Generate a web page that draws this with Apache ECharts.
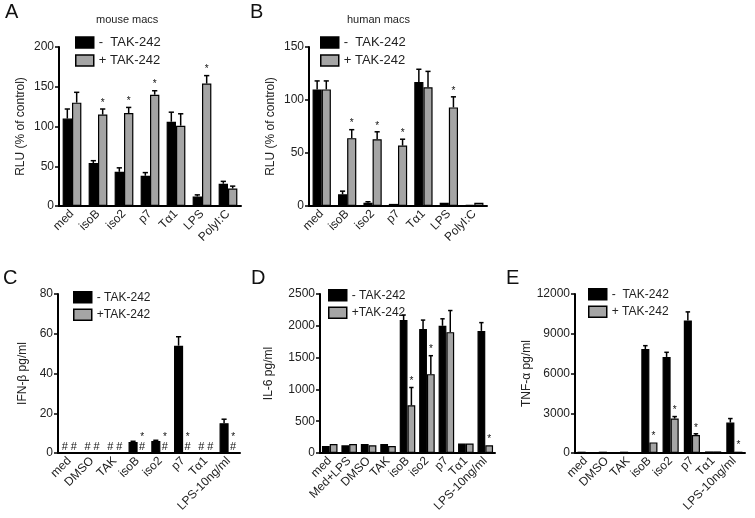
<!DOCTYPE html>
<html><head><meta charset="utf-8">
<script src="https://cdn.jsdelivr.net/npm/echarts@6/dist/echarts.min.js"></script>
<style>html,body{margin:0;padding:0;background:#fff}#c{width:755px;height:518px}</style>
</head><body><div id="c"></div>
<script>
// ---- Data ----
const catsAB = ['med','isoB','iso2','p7','Tα1','LPS','PolyI:C'];
const aMinus = [110,54,43,38,106,12,28];
const aMinusErr = [12,3,5,4,12,2,3];
const aPlus = [130,115,117,140,101,154,22];
const aPlusErr = [13,7,7,5,15,10,3];
const aStars = [0,1,1,1,0,1,0];

const bMinus = [110,11,3,2,117,3,1];
const bMinusErr = [8,3,1,0,12,0,0];
const bPlus = [110,64,63,57,112,93,3];
const bPlusErr = [8,8,7,6,15,10,0];
const bStars = [0,1,1,1,0,1,0];

const catsC = ['med','DMSO','TAK','isoB','iso2','p7','Tα1','LPS-10ng/ml'];
const cMinus = [0,0,0,5.5,6,54,0,15];
const cMinusErr = [0,0,0,0.4,0.4,4.5,0,2];
const cPlus = [0,0,0,0,0,0,0,0];
const cPlusErr = [0,0,0,0,0,0,0,0];
const cStars = [0,0,0,1,1,1,0,1];
const cMinusHash = [1,1,1,0,0,0,1,0];
const cPlusHash = [1,1,1,1,1,1,1,1];

const catsD = ['med','Med+LPS','DMSO','TAK','isoB','iso2','p7','Tα1','LPS-10ng/ml'];
const dMinus = [110,120,140,140,2090,1950,2000,150,1920];
const dMinusErr = [0,0,0,0,80,140,110,0,130];
const dPlus = [140,140,120,110,750,1240,1900,150,120];
const dPlusErr = [0,0,0,0,280,290,340,0,0];
const dStars = [0,0,0,0,1,1,0,0,1];

const catsE = ['med','DMSO','TAK','isoB','iso2','p7','Tα1','LPS-10ng/ml'];
const eMinus = [100,100,100,7850,7250,10000,120,2300];
const eMinusErr = [0,0,0,250,350,650,0,300];
const ePlus = [0,0,0,800,2600,1350,120,100];
const ePlusErr = [0,0,0,0,150,100,0,0];
const eStars = [0,0,0,1,1,1,0,1];

const yTicks = {A:[0,200,50], B:[0,150,50], C:[0,80,20], D:[0,2500,500], E:[0,12000,3000]};

// ---- Styling ----
const FONT = 'Liberation Sans';
const TXT = '#222';
const GRAY = '#a5a5a5';

const panels = [
  {key:'A', cats:catsAB, m:aMinus, me:aMinusErr, p:aPlus, pe:aPlusErr, st:aStars, grid:{left:59,top:47,width:182,height:159}, yName:'RLU (% of control)', nameGap:32, bw:0.36, names:['-  TAK-242','+ TAK-242'], legend:{left:70,top:31}, lfs:13},
  {key:'B', cats:catsAB, m:bMinus, me:bMinusErr, p:bPlus, pe:bPlusErr, st:bStars, grid:{left:309,top:47,width:178,height:159}, yName:'RLU (% of control)', nameGap:32, bw:0.36, names:['-  TAK-242','+ TAK-242'], legend:{left:315,top:31}, lfs:13},
  {key:'C', cats:catsC, m:cMinus, me:cMinusErr, p:cPlus, pe:cPlusErr, st:cStars, mh:cMinusHash, ph:cPlusHash, grid:{left:58,top:294,width:182,height:159}, yName:'IFN-β pg/ml', nameGap:29, bw:0.4, names:['- TAK-242','+TAK-242'], legend:{left:68,top:286}, lfs:12},
  {key:'D', cats:catsD, m:dMinus, me:dMinusErr, p:dPlus, pe:dPlusErr, st:dStars, grid:{left:320,top:294,width:175,height:159}, yName:'IL-6 pg/ml', nameGap:45, bw:0.4, names:['- TAK-242','+TAK-242'], legend:{left:323,top:284}, lfs:12},
  {key:'E', cats:catsE, m:eMinus, me:eMinusErr, p:ePlus, pe:ePlusErr, st:eStars, grid:{left:575,top:294,width:170,height:159}, yName:'TNF-α pg/ml', nameGap:41, bw:0.38, names:['-  TAK-242','+ TAK-242'], legend:{left:583,top:283}, lfs:12}
];

const grids=[], xAxes=[], yAxes=[], series=[], legends=[];

function errRender(bw, side){
  return function(params, api){
    const i = api.value(0), v = api.value(1), e = api.value(2), star = api.value(3), hash = api.value(4);
    const catW = api.size([1,0])[0];
    const w = catW*bw;
    const base = api.coord([i, v]);
    const x = base[0] + side*w/2;
    const children = [];
    let top = base[1];
    if (e > 0) {
      top = api.coord([i, v+e])[1];
      children.push({type:'line', shape:{x1:x,y1:base[1],x2:x,y2:top}, style:{stroke:'#000',lineWidth:1.5}});
      children.push({type:'line', shape:{x1:x-w*0.28,y1:top,x2:x+w*0.28,y2:top}, style:{stroke:'#000',lineWidth:1.5}});
    }
    let y = top;
    if (hash) {
      children.push({type:'text', style:{text:'#', x:x, y:base[1]-0.5, align:'center', verticalAlign:'bottom', font:'11px '+FONT, fill:'#111'}});
      y = base[1]-10;
    }
    if (star) {
      children.push({type:'text', style:{text:'*', x:x, y:y-1, align:'center', verticalAlign:'bottom', font:'10px '+FONT, fill:'#111'}});
    }
    return {type:'group', children};
  };
}

panels.forEach((P, k) => {
  grids.push(P.grid);
  const t = yTicks[P.key];
  xAxes.push({type:'category', gridIndex:k, data:P.cats, boundaryGap:true,
    axisLine:{lineStyle:{color:'#000',width:2}},
    axisTick:{alignWithLabel:true, length:5, lineStyle:{color:'#000',width:1.5}},
    axisLabel:{rotate:45, interval:0, color:TXT, fontFamily:FONT, fontSize:12, margin:6}});
  yAxes.push({type:'value', gridIndex:k, min:t[0], max:t[1], interval:t[2],
    splitLine:{show:false},
    axisLine:{show:true, lineStyle:{color:'#000',width:2}},
    axisTick:{show:true, length:4, lineStyle:{color:'#000',width:1.5}},
    axisLabel:{color:TXT, fontFamily:FONT, fontSize:12, margin:5, formatter:v => String(v)},
    name:P.yName, nameLocation:'middle', nameRotate:90, nameGap:P.nameGap,
    nameTextStyle:{color:TXT, fontFamily:FONT, fontSize:12}});
  const bwPct = (P.bw*100)+'%';
  series.push({type:'bar', name:P.names[0], xAxisIndex:k, yAxisIndex:k, data:P.m, barWidth:bwPct, barGap:'0%',
    itemStyle:{color:'#000', borderColor:'#000', borderWidth:1.2}, emphasis:{disabled:true}});
  series.push({type:'bar', name:P.names[1], xAxisIndex:k, yAxisIndex:k, data:P.p, barWidth:bwPct, barGap:'0%',
    itemStyle:{color:GRAY, borderColor:'#000', borderWidth:1.2}, emphasis:{disabled:true}});
  const mh = P.mh || P.m.map(()=>0), ph = P.ph || P.p.map(()=>0);
  series.push({type:'custom', xAxisIndex:k, yAxisIndex:k, z:5, silent:true,
    renderItem:errRender(P.bw,-1), encode:{x:0,y:1},
    data:P.m.map((v,i)=>[i, v, P.me[i], 0, mh[i]])});
  series.push({type:'custom', xAxisIndex:k, yAxisIndex:k, z:5, silent:true,
    renderItem:errRender(P.bw,1), encode:{x:0,y:1},
    data:P.p.map((v,i)=>[i, v, P.pe[i], P.st[i], ph[i]])});
  legends.push({orient:'vertical', left:P.legend.left, top:P.legend.top, data:P.names,
    icon:'rect', itemWidth:18, itemHeight:11, itemGap:5, selectedMode:false,
    textStyle:{color:TXT, fontFamily:FONT, fontSize:P.lfs},
    itemStyle:{borderColor:'#000', borderWidth:1.5}});
});

const letters = [['A',5,2],['B',250,2],['C',3,268],['D',251,268],['E',506,268]];
const graphic = letters.map(l => ({type:'text', left:l[1], top:l[2], style:{text:l[0], font:'20px '+FONT, fill:'#111'}}));
graphic.push({type:'text', left:96, top:14, style:{text:'mouse macs', font:'11px '+FONT, fill:TXT}});
graphic.push({type:'text', left:347, top:14, style:{text:'human macs', font:'11px '+FONT, fill:TXT}});

const chart = echarts.init(document.getElementById('c'), null, {renderer:'canvas'});
chart.setOption({animation:false, grid:grids, xAxis:xAxes, yAxis:yAxes, series, legend:legends, graphic});
</script></body></html>
